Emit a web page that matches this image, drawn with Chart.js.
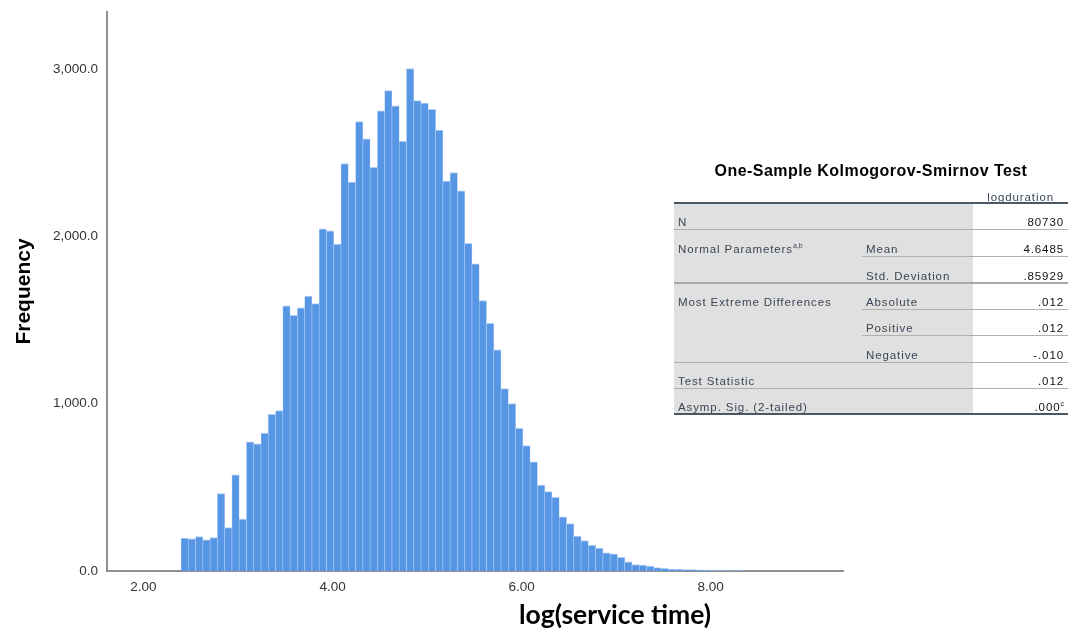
<!DOCTYPE html>
<html>
<head>
<meta charset="utf-8">
<script src="https://cdn.jsdelivr.net/npm/chart.js@4.4.0/dist/chart.umd.min.js"></script>
<style>
  html, body { margin: 0; padding: 0; background: #ffffff; }
  #wrap { position: relative; width: 1069px; height: 632px; overflow: hidden; }
  #chart { position: absolute; left: 0; top: 0; }
  .ks { position: absolute; font-family: "Liberation Sans", Arial, sans-serif; }
  .ks-text { position: absolute; font-size: 11.5px; letter-spacing: 0.9px; color: #3a4654; white-space: nowrap; line-height: 14px; }
  .ks-val { color: #111111; text-align: right; }
  .ks-line { position: absolute; }
  sup { font-size: 7px; letter-spacing: 0; vertical-align: 5px; line-height: 0; }
</style>
</head>
<body>
<div id="wrap">
  <canvas id="chart" width="1069" height="632"></canvas>
  <div id="ks" class="ks"></div>
</div>
<script>
// Histogram of log(service time): bin layout and frequency per bin
const binStart = 2.397;
const binWidth = 0.07695;
const counts = [
  196, 192, 206, 186, 200, 462, 260, 574, 310, 772,
  760, 824, 936, 958, 1584, 1528, 1572, 1642, 1598, 2044,
  2032, 1954, 2434, 2324, 2686, 2582, 2412, 2750, 2870, 2780,
  2568, 3002, 2810, 2796, 2758, 2634, 2330, 2380, 2272, 1958,
  1836, 1616, 1480, 1322, 1090, 1000, 852, 750, 652, 514,
  474, 440, 324, 284, 208, 182, 154, 137, 108, 102,
  82, 55, 39, 35, 29, 20, 16, 12, 10, 9,
  8, 6, 4, 3, 2, 1, 2, 1
];

// Axis ticks
const xTicks = [2, 4, 6, 8];
const yTicks = [0, 1000, 2000, 3000];

// Axis titles
const xTitle = 'log(service time)';
const yTitle = 'Frequency';

// One-Sample Kolmogorov-Smirnov Test table
const ksTitle = 'One-Sample Kolmogorov-Smirnov Test';
const ksHeader = 'logduration';
const ksLabels = ['N', 'Normal Parameters', '', 'Most Extreme Differences', '', '', 'Test Statistic', 'Asymp. Sig. (2-tailed)'];
const ksLabelNotes = ['', 'a,b', '', '', '', '', '', ''];
const ksSubLabels = ['', 'Mean', 'Std. Deviation', 'Absolute', 'Positive', 'Negative', '', ''];
const ksValues = ['80730', '4.6485', '.85929', '.012', '.012', '-.010', '.012', '.000'];
const ksValueNotes = ['', '', '', '', '', '', '', 'c'];

const tickFont = { family: '"Liberation Sans", Arial, sans-serif', size: 13.5 };

const axisTitles = {
  id: 'axisTitles',
  afterDraw(chart) {
    const ctx = chart.ctx;
    const area = chart.chartArea;
    ctx.save();
    ctx.fillStyle = '#000000';
    ctx.textAlign = 'center';
    ctx.textBaseline = 'middle';
    ctx.font = 'bold 21px "Liberation Sans", Arial, sans-serif';
    ctx.translate(24, (area.top + area.bottom) / 2);
    ctx.rotate(-Math.PI / 2);
    ctx.fillText(yTitle, 0, 0);
    ctx.restore();

    ctx.save();
    ctx.fillStyle = '#000000';
    ctx.textAlign = 'center';
    ctx.textBaseline = 'middle';
    ctx.font = 'bold 26.5px Lato, "Open Sans", sans-serif';
    ctx.fillText(xTitle, 615, 615);
    ctx.restore();
  }
};

function noEdgePadding(s) {
  s.paddingTop = 0; s.paddingBottom = 0; s.paddingLeft = 0; s.paddingRight = 0;
}

new Chart(document.getElementById('chart'), {
  type: 'bar',
  data: {
    datasets: [{
      data: counts.map((c, i) => ({ x: binStart + (i + 0.5) * binWidth, y: c })),
      backgroundColor: '#5796e5',
      borderColor: '#b3cff4',
      borderWidth: { top: 1, left: 0.6, right: 0.6, bottom: 0 },
      borderSkipped: false,
      barPercentage: 1,
      categoryPercentage: 1
    }]
  },
  options: {
    responsive: false,
    animation: false,
    layout: { padding: { left: 0, top: 12, right: 226, bottom: 0 } },
    plugins: { legend: { display: false }, tooltip: { enabled: false } },
    scales: {
      x: {
        type: 'linear',
        offset: false,
        min: 1.614,
        max: 9.40,
        afterBuildTicks: s => { s.ticks = xTicks.map(v => ({ value: v })); },
        afterFit: s => { s.height = 61; noEdgePadding(s); },
        grid: { display: false, drawTicks: false },
        border: { display: true, color: '#8f8f8f', width: 2 },
        ticks: {
          font: tickFont, color: '#333333', padding: 8,
          maxRotation: 0, autoSkip: false,
          callback: v => Number(v).toFixed(2)
        }
      },
      y: {
        min: 0,
        max: 3340,
        afterBuildTicks: s => { s.ticks = yTicks.map(v => ({ value: v })); },
        afterFit: s => { s.width = 107; noEdgePadding(s); },
        grid: { display: false, drawTicks: false },
        border: { display: true, color: '#8f8f8f', width: 2 },
        ticks: {
          font: tickFont, color: '#333333', padding: 9,
          callback: v => Number(v).toLocaleString('en-US', { minimumFractionDigits: 1, maximumFractionDigits: 1 })
        }
      }
    }
  },
  plugins: [axisTitles]
});

// Build the statistics table beside the histogram
(function buildTable() {
  const box = document.getElementById('ks');
  const left = 674, right = 1068, col2 = 862, col3 = 973;
  const rowEdges = [203, 229, 256, 283, 309, 335, 362, 388, 414];
  // separator under each row: 'full', 'sub' (from second column), 'group' (full, heavier), 'end'
  const seps = ['full', 'sub', 'group', 'sub', 'sub', 'full', 'full', 'end'];

  function add(cls, css, html) {
    const d = document.createElement('div');
    d.className = cls;
    Object.assign(d.style, css);
    if (html !== undefined) d.innerHTML = html;
    box.appendChild(d);
    return d;
  }

  add('ks-text', { left: (left - 20) + 'px', width: (right - left + 40) + 'px', top: '161px', textAlign: 'center',
    fontWeight: 'bold', fontSize: '16px', letterSpacing: '0.45px', color: '#000000', lineHeight: '19px' }, ksTitle);
  add('ks-text', { left: col3 + 'px', width: (1054 - col3) + 'px', top: '190px', textAlign: 'right' }, ksHeader);

  // shaded label columns
  add('ks-line', { left: left + 'px', top: rowEdges[0] + 'px', width: (col3 - left) + 'px',
    height: (rowEdges[rowEdges.length - 1] - rowEdges[0]) + 'px', background: '#e0e0e0' });

  // top rule
  add('ks-line', { left: left + 'px', top: (rowEdges[0] - 1) + 'px', width: (right - left) + 'px', height: '2px', background: '#4a5866' });

  for (let i = 0; i < ksValues.length; i++) {
    const bottom = rowEdges[i + 1];
    const ty = (bottom - 14) + 'px';
    if (ksLabels[i]) {
      const note = ksLabelNotes[i] ? '<sup>' + ksLabelNotes[i] + '</sup>' : '';
      add('ks-text', { left: (left + 4) + 'px', top: ty }, ksLabels[i] + note);
    }
    if (ksSubLabels[i]) {
      add('ks-text', { left: (col2 + 4) + 'px', top: ty }, ksSubLabels[i]);
    }
    const vnote = ksValueNotes[i] ? '<sup>' + ksValueNotes[i] + '</sup>' : '';
    add('ks-text ks-val', { left: col3 + 'px', width: (1064 - col3) + 'px', top: ty }, ksValues[i] + vnote);

    const kind = seps[i];
    if (kind === 'end') {
      add('ks-line', { left: left + 'px', top: (bottom - 1) + 'px', width: (right - left) + 'px', height: '2px', background: '#4a5866' });
    } else if (kind === 'sub') {
      add('ks-line', { left: col2 + 'px', top: bottom + 'px', width: (right - col2) + 'px', height: '1px', background: '#b0b0b0' });
    } else if (kind === 'group') {
      add('ks-line', { left: left + 'px', top: (bottom - 1) + 'px', width: (right - left) + 'px', height: '2px', background: '#a8a8a8' });
    } else {
      add('ks-line', { left: left + 'px', top: bottom + 'px', width: (right - left) + 'px', height: '1px', background: '#b0b0b0' });
    }
  }
})();
</script>
</body>
</html>
